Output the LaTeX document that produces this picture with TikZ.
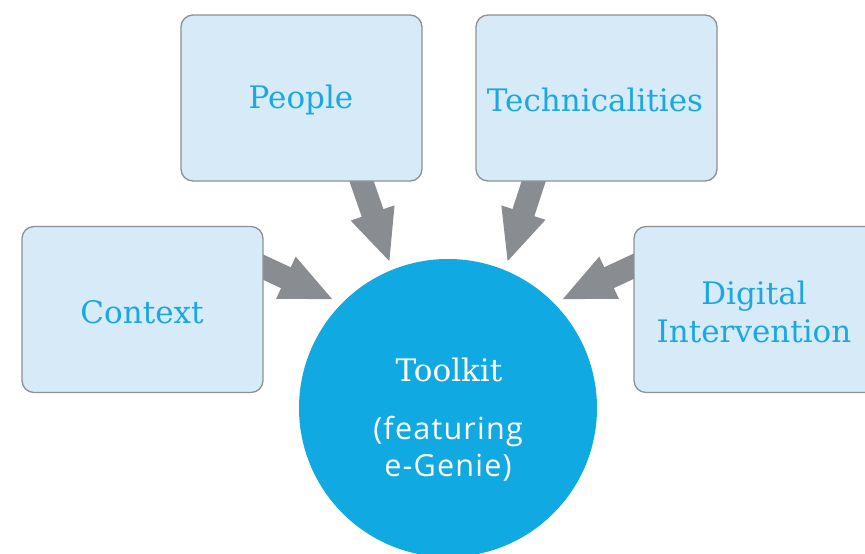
\documentclass[tikz,border=0pt]{standalone}
\usepackage{fontspec}
\setmainfont{DejaVu Serif}
\newfontfamily\featfont[LetterSpace=4]{Open Sans}
\usetikzlibrary{arrows.meta}
\definecolor{boxfill}{HTML}{D6EAF7}
\definecolor{boxline}{HTML}{8C9195}
\definecolor{boxtext}{HTML}{1BA8E0}
\definecolor{circfill}{HTML}{10A9E1}
\definecolor{arrowgray}{HTML}{898D91}
\tikzset{
  topic/.style={draw=boxline, line width=1.3pt, fill=boxfill, rounded corners=12pt,
    minimum width=241pt, minimum height=166pt, inner sep=0pt},
  topictext/.style={text=boxtext, font=\fontsize{31}{38}\selectfont, align=center},
  hub/.style={circle, fill=circfill, minimum size=298pt, inner sep=0pt},
  bigarrow/.style={draw=arrowgray, line width=23pt,
    -{Triangle[length=53pt, width=42pt, fill=arrowgray]}},
}
\begin{document}
\begin{tikzpicture}[x=1pt, y=-1pt]
\useasboundingbox[fill=white] (0,0) rectangle (865,554);
% arrow coordinates
\coordinate (pS) at (358,171);
\coordinate (pT) at (390,263);
\coordinate (tS) at (537,171);
\coordinate (tT) at (507,263);
\coordinate (cS) at (252,262);
\coordinate (cT) at (334,300);
\coordinate (dS) at (645,261);
\coordinate (dT) at (561,300);
\draw[bigarrow] (pS) -- (pT);
\draw[bigarrow] (tS) -- (tT);
\draw[bigarrow] (cS) -- (cT);
\draw[bigarrow] (dS) -- (dT);
% boxes
\node[topic] (people) at (301.5,98) {};
\node[topictext] (peopletext) at (301,100) {People};
\node[topic] (tech) at (596.5,98) {};
\node[topictext] (techtext) at (595,100) {Technicalities};
\node[topic] (context) at (142.5,309.5) {};
\node[topictext] (contexttext) at (142,312) {Context};
\node[topic, minimum width=250pt] (digital) at (759,309.5) {};
\node[topictext] (digitaltext) at (754,312) {Digital\\Intervention};
% hub
\node[hub] (toolkit) at (448,408) {};
\node[text=white, font=\fontsize{31}{38}\selectfont] (tk) at (449,370) {Toolkit};
\node[text=white, font=\featfont\fontsize{30.5}{37}\selectfont, align=center] (feat) at (448,449) {(featuring\\e-Genie)};
\end{tikzpicture}
\end{document}
